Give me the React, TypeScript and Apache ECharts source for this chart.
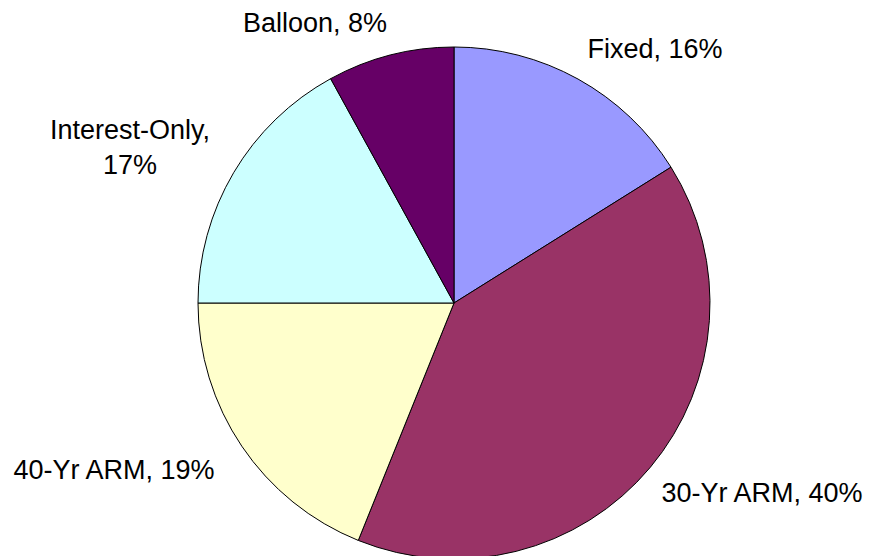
import React, { useEffect, useRef } from "react";
import * as echarts from "echarts";

const categories = ["Fixed", "30-Yr ARM", "40-Yr ARM", "Interest-Only", "Balloon"];
const values = [16.1, 40.0, 18.9, 17.0, 8.0];
const colors = ["#9999FF", "#993366", "#FFFFCC", "#CCFFFF", "#660066"];
const labelCenters: [number, number][] = [
  [655, 49],
  [762, 493],
  [114, 470],
  [130, 147],
  [315, 23],
];

export default function App() {
  const ref = useRef<HTMLDivElement>(null);
  useEffect(() => {
    if (!ref.current) return;
    const chart = echarts.init(ref.current, undefined, { renderer: "svg" });
    chart.setOption({
      animation: false,
      backgroundColor: "#ffffff",
      series: [
        {
          type: "pie",
          center: [454, 303],
          radius: 256,
          startAngle: 90,
          clockwise: true,
          percentPrecision: 0,
          avoidLabelOverlap: false,
          data: categories.map((name, i) => ({
            name,
            value: values[i],
            itemStyle: { color: colors[i] },
          })),
          itemStyle: { borderColor: "#000000", borderWidth: 1 },
          emphasis: { disabled: true },
          label: {
            show: true,
            position: "outside",
            color: "#000000",
            fontFamily: "Arial, 'Liberation Sans', sans-serif",
            fontSize: 27,
            lineHeight: 35,
            align: "center",
            formatter: (p: any) =>
              p.name === "Interest-Only"
                ? `${p.name},\n${p.percent}%`
                : `${p.name}, ${p.percent}%`,
          },
          labelLine: { show: false },
          labelLayout: (params: any) => ({
            x: labelCenters[params.dataIndex][0],
            y: labelCenters[params.dataIndex][1],
            align: "center",
            verticalAlign: "middle",
          }),
        },
      ],
    });
    return () => chart.dispose();
  }, []);
  return (
    <div
      ref={ref}
      style={{ position: "fixed", left: 0, top: 0, width: 869, height: 556, background: "#fff" }}
    />
  );
}
